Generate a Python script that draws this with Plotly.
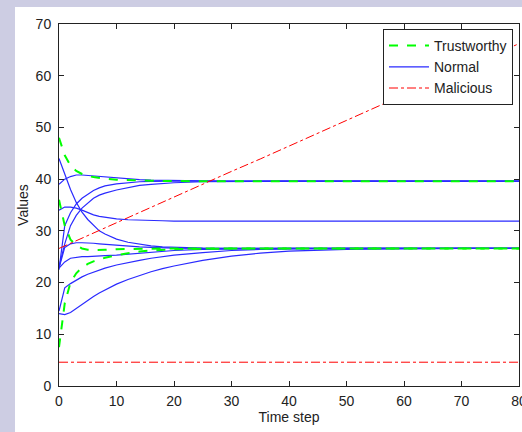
import plotly.graph_objects as go

T = [0, 1, 2, 3, 4, 5, 6, 7, 8, 10, 12, 14, 16, 18, 20, 25, 30, 35, 40, 50, 60, 70, 80]

# Trustworthy nodes (green dashed)
TRUST_1 = [48.0, 44.6, 42.6, 41.6, 41.0, 40.6, 40.4, 40.2, 40.1, 39.9, 39.8, 39.7, 39.7, 39.65, 39.6, 39.6, 39.6, 39.6, 39.6, 39.6, 39.6, 39.6, 39.6]
TRUST_2 = [36.0, 31.0, 28.3, 27.2, 26.6, 26.35, 26.3, 26.3, 26.35, 26.45, 26.5, 26.55, 26.6, 26.6, 26.6, 26.6, 26.6, 26.6, 26.6, 26.6, 26.6, 26.6, 26.6]
TRUST_3 = [7.5, 16.0, 20.0, 21.8, 22.9, 23.6, 24.1, 24.5, 24.8, 25.3, 25.7, 26.0, 26.2, 26.35, 26.45, 26.55, 26.6, 26.6, 26.6, 26.6, 26.6, 26.6, 26.6]

# Normal nodes (blue solid)
NORMAL_E = [39.0, 40.0, 40.5, 40.8, 40.8, 40.7, 40.6, 40.5, 40.4, 40.2, 40.0, 39.9, 39.8, 39.75, 39.7, 39.65, 39.6, 39.6, 39.6, 39.6, 39.6, 39.6, 39.6]
NORMAL_H = [22.5, 31.0, 33.5, 35.2, 36.3, 37.1, 37.8, 38.3, 38.7, 39.1, 39.35, 39.5, 39.55, 39.6, 39.6, 39.6, 39.6, 39.6, 39.6, 39.6, 39.6, 39.6, 39.6]
NORMAL_I = [23.0, 27.5, 31.0, 33.0, 34.4, 35.4, 36.3, 36.9, 37.3, 37.9, 38.4, 38.8, 39.0, 39.2, 39.3, 39.5, 39.55, 39.6, 39.6, 39.6, 39.6, 39.6, 39.6]
NORMAL_G = [34.0, 34.6, 34.6, 34.4, 34.0, 33.5, 33.1, 32.8, 32.6, 32.3, 32.15, 32.05, 32.0, 31.95, 31.9, 31.9, 31.9, 31.9, 31.9, 31.9, 31.9, 31.9, 31.9]
NORMAL_F = [44.0, 41.0, 38.0, 35.5, 33.6, 32.2, 31.0, 30.0, 29.4, 28.4, 27.8, 27.4, 27.1, 26.9, 26.8, 26.65, 26.6, 26.6, 26.6, 26.6, 26.6, 26.6, 26.6]
NORMAL_A = [22.8, 26.8, 27.5, 27.7, 27.7, 27.7, 27.6, 27.5, 27.4, 27.2, 27.0, 26.9, 26.8, 26.7, 26.65, 26.6, 26.6, 26.6, 26.6, 26.6, 26.6, 26.6, 26.6]
NORMAL_B = [22.8, 24.0, 24.7, 24.9, 25.0, 25.0, 25.1, 25.1, 25.2, 25.3, 25.5, 25.7, 25.9, 26.0, 26.2, 26.4, 26.5, 26.55, 26.6, 26.6, 26.6, 26.6, 26.6]
NORMAL_D = [14.5, 19.0, 19.8, 20.5, 21.1, 21.6, 22.0, 22.4, 22.8, 23.4, 23.9, 24.3, 24.7, 25.0, 25.3, 25.8, 26.2, 26.4, 26.5, 26.6, 26.6, 26.6, 26.6]
NORMAL_C = [14.0, 13.8, 14.2, 15.0, 15.8, 16.6, 17.3, 18.0, 18.6, 19.7, 20.6, 21.4, 22.1, 22.7, 23.2, 24.3, 25.1, 25.7, 26.1, 26.4, 26.55, 26.6, 26.6]

# Malicious nodes (red dash-dot)
MAL_RISE = [26.6, 27.1, 27.6, 28.1, 28.6, 29.1, 29.6, 30.1, 30.6, 31.6, 32.5, 33.5, 34.5, 35.5, 36.5, 39.0, 41.5, 43.9, 46.4, 51.4, 56.3, 61.3, 66.2]
MAL_FLAT_T = [0, 80]
MAL_FLAT = [4.6, 4.6]

X_TICKS = [0, 10, 20, 30, 40, 50, 60, 70, 80]
Y_TICKS = [0, 10, 20, 30, 40, 50, 60, 70]

FONT = "Liberation Sans, Arial, sans-serif"

fig = go.Figure()

normals = [NORMAL_E, NORMAL_H, NORMAL_I, NORMAL_G, NORMAL_F, NORMAL_A, NORMAL_B, NORMAL_D, NORMAL_C]
for i, ys in enumerate(normals):
    fig.add_trace(go.Scatter(x=T, y=ys, mode="lines", name="Normal",
                             legendgroup="normal", showlegend=(i == 0), legendrank=2,
                             line=dict(color="#2A2AFF", width=1.2)))

for i, ys in enumerate([TRUST_1, TRUST_2, TRUST_3]):
    fig.add_trace(go.Scatter(x=T, y=ys, mode="lines", name="Trustworthy",
                             legendgroup="trust", showlegend=(i == 0), legendrank=1,
                             line=dict(color="#00FF00", width=2, dash="dash")))

fig.add_trace(go.Scatter(x=T, y=MAL_RISE, mode="lines", name="Malicious",
                         legendgroup="mal", showlegend=True, legendrank=3,
                         line=dict(color="#FF0000", width=1, dash="dashdot")))
fig.add_trace(go.Scatter(x=MAL_FLAT_T, y=MAL_FLAT, mode="lines", name="Malicious",
                         legendgroup="mal", showlegend=False, legendrank=3,
                         line=dict(color="#FF0000", width=1, dash="dashdot")))

L, R, TOP, B = 59, 3, 24, 46
W, H = 522, 432
pw, ph = W - L - R, H - TOP - B

# white panel over lavender background
fig.add_shape(type="rect", xref="paper", yref="paper",
              x0=(15 - L) / pw, x1=(W + 5 - L) / pw,
              y0=(H - B - (H + 5)) / ph, y1=(H - B - 7) / ph,
              fillcolor="white", line=dict(width=0), layer="below")

axis_common = dict(showline=True, linecolor="#222222", linewidth=1, mirror="ticks",
                   ticks="inside", ticklen=5, tickwidth=1, tickcolor="#222222",
                   showgrid=False, zeroline=False, ticklabeloverflow="allow",
                   tickfont=dict(family=FONT, size=14, color="#222222"))

fig.update_layout(
    width=W, height=H,
    margin=dict(l=L, r=R, t=TOP, b=B, autoexpand=False),
    paper_bgcolor="#CDCDE3",
    plot_bgcolor="white",
    font=dict(family=FONT, size=14, color="#222222"),
    xaxis=dict(range=[0, 80], tickvals=X_TICKS, ticklabelstandoff=2,
               title=dict(text="Time step", standoff=2, font=dict(family=FONT, size=14)),
               **axis_common),
    yaxis=dict(range=[0, 70], tickvals=Y_TICKS, ticklabelstandoff=4,
               title=dict(text="Values", standoff=3, font=dict(family=FONT, size=14)),
               **axis_common),
    legend=dict(x=(513 - L) / pw, y=(H - B - 29) / ph, xanchor="right", yanchor="top",
                bgcolor="white", bordercolor="#222222", borderwidth=1,
                font=dict(family=FONT, size=14, color="#222222"),
                tracegroupgap=0, itemwidth=40),
    showlegend=True,
)

fig.write_html("out.html", config={"displayModeBar": False},
               post_script="document.body.style.margin='0';document.body.style.padding='0';")
